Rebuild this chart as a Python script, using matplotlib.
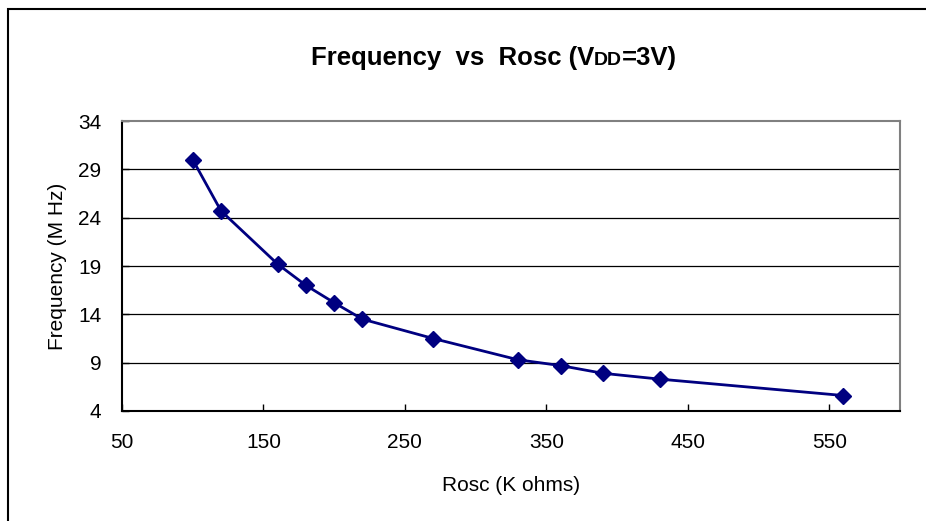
import matplotlib
matplotlib.use('Agg')
import matplotlib.pyplot as plt
from matplotlib.patches import Rectangle
from matplotlib.offsetbox import TextArea, HPacker, AnchoredOffsetbox

plt.rcParams['font.family'] = ['Liberation Sans', 'DejaVu Sans']

# data
rosc = [100, 120, 160, 180, 200, 220, 270, 330, 360, 390, 430, 560]
freq = [30.0, 24.7, 19.2, 17.0, 15.2, 13.5, 11.5, 9.3, 8.7, 7.9, 7.3, 5.6]
x_ticks = [50, 150, 250, 350, 450, 550]
y_ticks = [4, 9, 14, 19, 24, 29, 34]

W, H = 926, 521
fig = plt.figure(figsize=(W / 100, H / 100), dpi=100)
ax = fig.add_axes([122 / W, 1 - 411 / H, (900 - 122) / W, (411 - 121) / H])

# outer chart frame (only top and left edges visible)
fig.patches.append(Rectangle((8 / W, -0.5), 2.0, 1.5 - 9 / H, transform=fig.transFigure,
                             fill=False, edgecolor='black', linewidth=1.5))

ax.plot(rosc, freq, color='#000080', linewidth=2, marker='D', markersize=8,
        markerfacecolor='#000080', markeredgecolor='#000080', zorder=3)

ax.set_xlim(50, 600)
ax.set_ylim(4, 34)
ax.set_xticks(x_ticks)
ax.set_yticks(y_ticks)
ax.tick_params(axis='both', direction='in', length=5, width=1, labelsize=15, colors='black')
ax.tick_params(axis='y', pad=15)
ax.tick_params(axis='x', pad=16)

for y in y_ticks[1:-1]:
    ax.axhline(y, color='black', linewidth=0.9, zorder=1)

for side in ['left', 'bottom']:
    ax.spines[side].set_color('black')
    ax.spines[side].set_linewidth(1.5)
for side in ['top', 'right']:
    ax.spines[side].set_color('#808080')
    ax.spines[side].set_linewidth(1.5)

ax.set_xlabel('Rosc (K ohms)', fontsize=15, labelpad=17)
ax.set_ylabel('Frequency (M Hz)', fontsize=15, labelpad=8)

# title with small "DD"
tprops = dict(fontsize=18.5, fontweight='bold', color='black')
sprops = dict(fontsize=14, fontweight='bold', color='black')
parts = [TextArea('Frequency  vs  Rosc (V', textprops=tprops),
         TextArea('DD', textprops=sprops),
         TextArea('=3V)', textprops=tprops)]
box = HPacker(children=parts, align='baseline', pad=0, sep=0)
anch = AnchoredOffsetbox(loc='center', child=box, pad=0, frameon=False,
                         bbox_to_anchor=(494 / W, 1 - 58 / H), bbox_transform=fig.transFigure)
fig.add_artist(anch)

fig.savefig('out.png', dpi=100)
